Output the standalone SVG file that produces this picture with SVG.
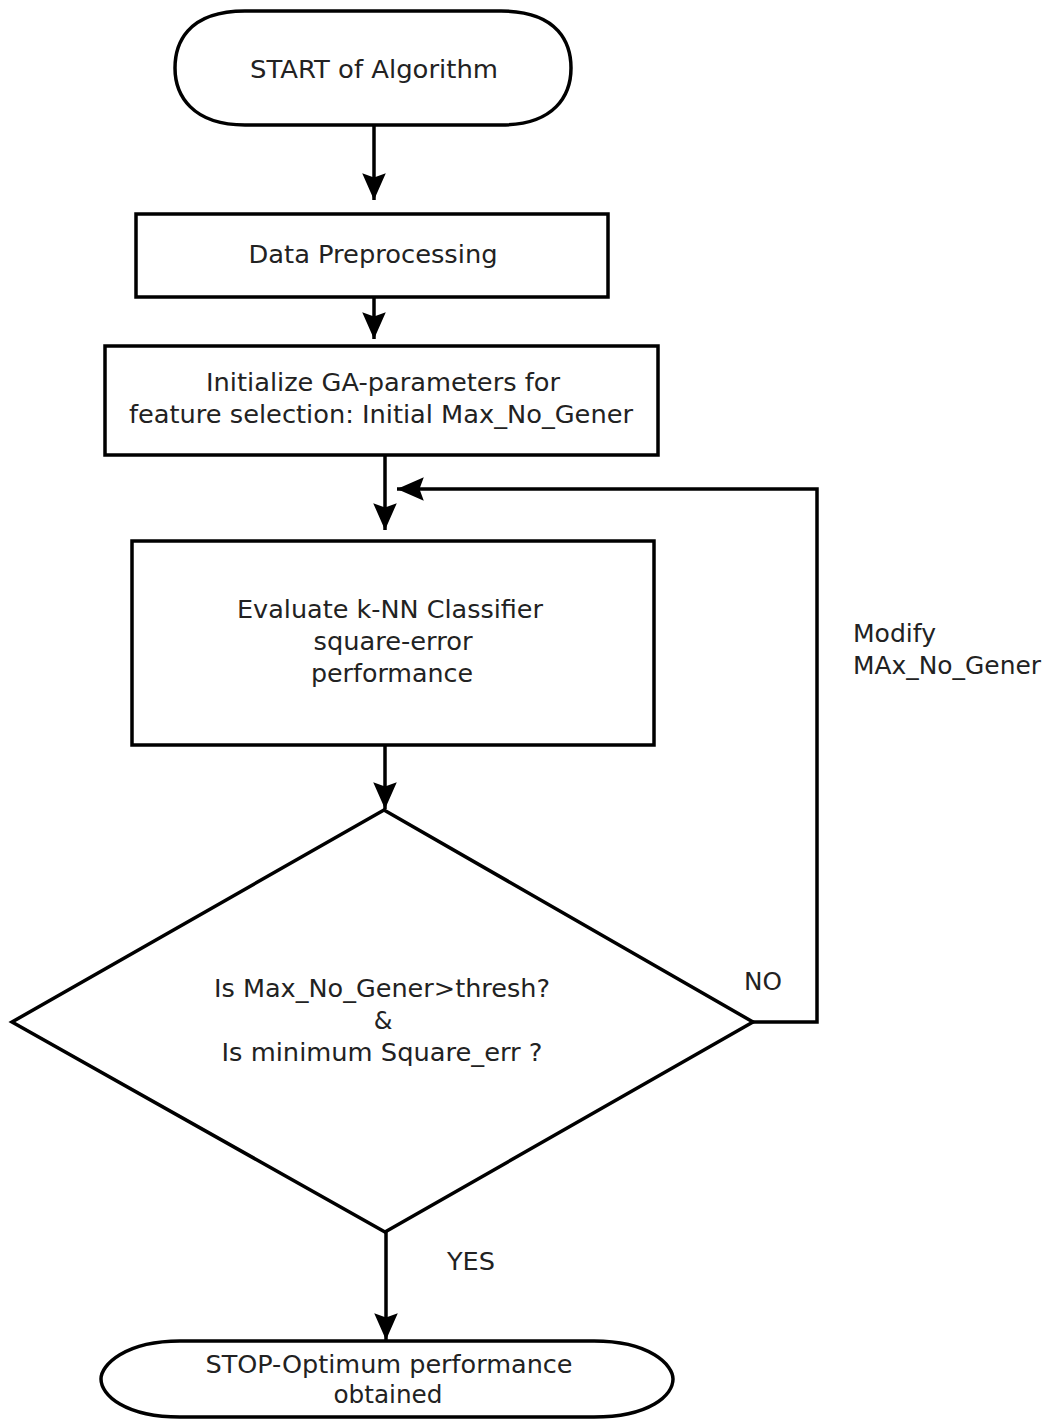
<svg xmlns="http://www.w3.org/2000/svg" width="1053" height="1425" viewBox="0 0 1053 1425">
<style>
.shape{fill:#fff;stroke:#000;stroke-width:3.5}
.conn{fill:none;stroke:#000;stroke-width:3.5}
text{font-family:"DejaVu Sans","Liberation Sans",sans-serif;font-size:24px;fill:#222;text-anchor:middle}
.lbl{text-anchor:start}
</style>
<defs>
<marker id="ah" markerUnits="userSpaceOnUse" markerWidth="30" markerHeight="30" viewBox="-27 -13 28 26" refX="0" refY="0" orient="auto">
<path d="M0,0 L-25,-11 L-21,0 L-25,11 Z" fill="#000"/>
</marker>
</defs>
<rect width="1053" height="1425" fill="#fff"/>
<g id="connectors">
<line class="conn" x1="374" y1="125" x2="374" y2="200" marker-end="url(#ah)"/>
<line class="conn" x1="374" y1="297" x2="374" y2="339" marker-end="url(#ah)"/>
<line class="conn" x1="385" y1="455" x2="385" y2="530" marker-end="url(#ah)"/>
<line class="conn" x1="385" y1="745" x2="385" y2="809" marker-end="url(#ah)"/>
<polyline class="conn" points="753,1022 817,1022 817,489 397,489" marker-end="url(#ah)"/>
<line class="conn" x1="386" y1="1232" x2="386" y2="1340" marker-end="url(#ah)"/>
<text class="lbl" x="853" y="642" textLength="83" lengthAdjust="spacingAndGlyphs">Modify</text>
<text class="lbl" x="853" y="674" textLength="188" lengthAdjust="spacingAndGlyphs">MAx_No_Gener</text>
<text x="763" y="990" textLength="38" lengthAdjust="spacingAndGlyphs">NO</text>
<text x="471" y="1270" textLength="48" lengthAdjust="spacingAndGlyphs">YES</text>
</g>
<g id="start">
<path class="shape" d="M245,11 H501 C560,11 571,45 571,68 C571,95 555,125 501,125 H245 C192,125 175,95 175,68 C175,45 186,11 245,11 Z"/>
<text x="374" y="78" textLength="248" lengthAdjust="spacingAndGlyphs">START of Algorithm</text>
</g>
<g id="preprocess">
<rect class="shape" x="136" y="214" width="472" height="83"/>
<text x="373" y="263" textLength="249" lengthAdjust="spacingAndGlyphs">Data Preprocessing</text>
</g>
<g id="init">
<rect class="shape" x="105" y="346" width="553" height="109"/>
<text x="383" y="391" textLength="354" lengthAdjust="spacingAndGlyphs">Initialize GA-parameters for</text>
<text x="381" y="423" textLength="504" lengthAdjust="spacingAndGlyphs">feature selection: Initial Max_No_Gener</text>
</g>
<g id="evaluate">
<rect class="shape" x="132" y="541" width="522" height="204"/>
<text x="390" y="618" textLength="306" lengthAdjust="spacingAndGlyphs">Evaluate k-NN Classifier</text>
<text x="393" y="650" textLength="159" lengthAdjust="spacingAndGlyphs">square-error</text>
<text x="392" y="682" textLength="162" lengthAdjust="spacingAndGlyphs">performance</text>
</g>
<g id="decision">
<polygon class="shape" points="384,810 753,1022 385,1232 12,1022"/>
<text x="382" y="997" textLength="336" lengthAdjust="spacingAndGlyphs">Is Max_No_Gener&gt;thresh?</text>
<text x="383" y="1029">&amp;</text>
<text x="382" y="1061" textLength="321" lengthAdjust="spacingAndGlyphs">Is minimum Square_err ?</text>
</g>
<g id="stop">
<path class="shape" d="M180,1341 H594 C650,1341 673,1365 673,1379 C673,1395 650,1417 594,1417 H180 C125,1417 101,1395 101,1379 C101,1365 125,1341 180,1341 Z"/>
<text x="389" y="1373" textLength="367" lengthAdjust="spacingAndGlyphs">STOP-Optimum performance</text>
<text x="388" y="1403" textLength="109" lengthAdjust="spacingAndGlyphs">obtained</text>
</g>
</svg>
